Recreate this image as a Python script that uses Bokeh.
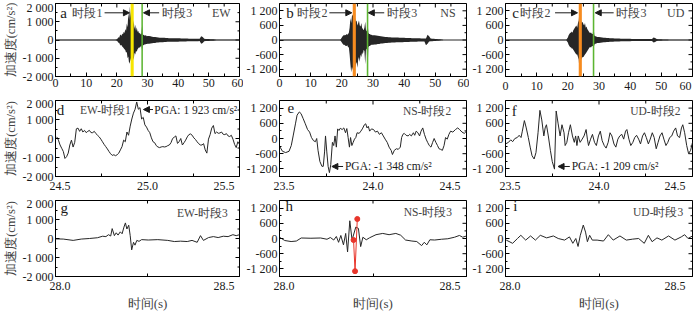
import numpy as np
from bokeh.plotting import figure
from bokeh.layouts import column, row
from bokeh.models import Range1d, FixedTicker, Label, Arrow, NormalHead, BoxAnnotation, Span
from bokeh.embed import file_html
from bokeh.resources import INLINE

SERIF = "Liberation Serif"

# ---------------- data: full records (envelope of the acceleration traces) ----------------
env_t = [0, 19.5,
         20.0, 20.25, 20.5, 20.75, 21.0, 21.25, 21.5, 21.75, 22.0, 22.25, 22.5, 22.75, 23.0, 23.25,
         23.5, 23.75, 24.0, 24.25, 24.5, 24.75, 25.0, 25.25, 25.5, 25.75, 26.0, 26.25, 26.5, 26.75,
         27.0, 27.25, 27.5, 27.75, 28.0, 28.25, 28.5, 28.75, 29.0, 29.25, 29.5, 29.75, 30.0,
         30.5, 31.0, 31.5, 32.0, 32.5, 33.0, 33.5, 34.0, 34.5, 35.0, 35.5, 36.0, 36.5, 37.0, 37.5,
         38.0, 38.5, 39.0, 39.5, 40.0, 40.5, 41.0, 41.5, 42.0, 42.5, 43.0, 43.5, 44.0, 44.5, 45.0,
         45.5, 46.0, 46.5, 47.0, 47.5, 48.0, 48.5, 49.0, 49.5, 50.0, 50.5, 51.0, 51.5, 52.0,
         52.5, 60]

ew_hi = [10, 15,
         40, 80, 150, 120, 250, 300, 220, 350, 300, 450, 380, 600, 500, 900, 700, 1500, 1100, 1850,
         1200, 1923, 1300, 800, 1080, 600, 830, 500, 700, 450, 500, 350, 400, 300, 350, 820, 300,
         280, 250, 240, 260, 200, 220,
         220, 200, 180, 170, 160, 150, 140, 130, 130, 120, 120, 110, 110, 100, 100, 100, 95, 95,
         90, 90, 90, 85, 85, 80, 80, 80, 75, 75, 70, 70, 70, 65, 65, 65, 200, 160, 70, 60, 55, 50,
         45, 40, 35, 30,
         10, 10]
ew_lo = [-10, -15,
         -40, -80, -150, -150, -250, -300, -280, -350, -400, -450, -500, -550, -700, -650, -1000,
         -900, -1300, -1200, -1050, -900, -800, -950, -1100, -700, -800, -600, -650, -500, -450,
         -400, -420, -350, -300, -600, -300, -280, -250, -250, -220, -220, -200,
         -200, -190, -180, -160, -160, -140, -140, -130, -120, -120, -110, -110, -100, -100, -100,
         -95, -95, -90, -90, -90, -85, -85, -80, -80, -80, -75, -75, -70, -70, -70, -65, -65, -65,
         -60, -200, -160, -70, -60, -55, -50, -45, -40, -35, -30,
         -10, -10]

ns_hi = [10, 15,
         100, 150, 200, 180, 220, 200, 250, 220, 250, 300, 500, 900, 700, 990, 1050, 800, 1200, 900,
         750, 800, 600, 700, 800, 600, 550, 700, 500, 450, 400, 500, 750, 400, 350, 770, 300, 250,
         250, 220, 220, 200, 200,
         200, 180, 170, 160, 150, 140, 130, 120, 120, 110, 110, 100, 100, 100, 100, 100, 90, 90,
         90, 90, 80, 80, 80, 80, 70, 70, 70, 70, 70, 70, 60, 60, 60, 60, 220, 150, 60, 50, 50, 45,
         40, 35, 30, 25,
         10, 10]
ns_lo = [-10, -15,
         -100, -150, -200, -200, -220, -250, -250, -220, -300, -300, -600, -1000, -1325, -1100,
         -1200, -1348, -1000, -1140, -1000, -900, -1140, -800, -700, -900, -600, -700, -500, -600,
         -400, -450, -1000, -400, -350, -1400, -300, -250, -250, -220, -200, -200, -200,
         -190, -180, -160, -160, -140, -140, -130, -120, -120, -110, -110, -100, -100, -100, -95,
         -95, -90, -90, -90, -80, -80, -80, -80, -70, -70, -70, -70, -70, -60, -60, -60, -60, -60,
         -220, -150, -60, -50, -50, -45, -40, -35, -30, -25,
         -10, -10]

ud_hi = [10, 15,
         100, 200, 250, 300, 300, 350, 300, 400, 450, 500, 550, 600, 500, 700, 800, 1240, 900, 800,
         700, 750, 650, 600, 700, 500, 550, 450, 400, 350, 300, 300, 300, 250, 250, 550, 200, 150,
         150, 130, 120, 120, 120,
         110, 100, 90, 90, 80, 80, 70, 70, 70, 60, 60, 60, 60, 50, 50, 50, 50, 50, 50, 50, 45, 45,
         45, 45, 45, 45, 40, 40, 40, 40, 40, 40, 40, 40, 100, 80, 40, 30, 30, 30, 25, 25, 20, 20,
         10, 10]
ud_lo = [-10, -15,
         -100, -200, -250, -300, -300, -350, -350, -400, -450, -500, -550, -600, -600, -700, -800,
         -1330, -1000, -800, -750, -700, -700, -650, -600, -550, -500, -450, -400, -350, -300,
         -300, -300, -250, -250, -350, -200, -150, -150, -130, -120, -120, -120,
         -110, -100, -90, -90, -80, -80, -70, -70, -70, -60, -60, -60, -60, -50, -50, -50, -50,
         -50, -50, -50, -45, -45, -45, -45, -45, -45, -40, -40, -40, -40, -40, -40, -40, -40,
         -100, -80, -40, -30, -30, -30, -25, -25, -20, -20,
         -10, -10]

# ---------------- data: windows ----------------
# EW window 1 (uniform sampling)
d_t0, d_dt = 24.507, 0.008865
d_v = [86, -86, -342, -513, -684, -1050, -958, -770, -342, -86, -450, -200, 510, 547, 376, 513,
       342, 427, 308, 376, 427, 308, 308, 376, 256, 171, 86, -34, -171, -308, -427, -547, -684,
       -804, -889, -855, -906, -855, -770, -600, -427, -86, -171, 342, 171, 650, 1026, 1334, 1540,
       1923, 1540, 1625, 1026, 1111, 718, 600, 427, 308, 34, -171, -222, -376, -445, -479, -445,
       -427, -445, -427, -376, -342, -222, 0, 68, 137, -256, -171, 0, -342, -222, -86, 86, 205,
       240, 171, 34, -51, -171, -273, -342, -342, -273, -600, -770, -34, 205, 547, 684, 256, 342,
       274, 291, 342, 222, 205, 256, 137, 103, 171, -34, -308, -479, -171, -308]

e_t = [23.500, 23.516, 23.533, 23.551, 23.563, 23.573, 23.586, 23.594, 23.606, 23.615, 23.626,
       23.638, 23.650, 23.661, 23.671, 23.682, 23.692, 23.699, 23.706, 23.716, 23.727, 23.734,
       23.741, 23.746, 23.753, 23.760, 23.767, 23.774, 23.783, 23.790, 23.797, 23.804, 23.811,
       23.818, 23.825, 23.835, 23.844, 23.853, 23.860, 23.867, 23.874, 23.880, 23.887, 23.894,
       23.901, 23.908, 23.915, 23.926, 23.935, 23.943, 23.954, 23.961, 23.968, 23.975, 23.982,
       23.992, 24.003, 24.013, 24.024, 24.034, 24.045, 24.055, 24.065, 24.076, 24.086, 24.097,
       24.104, 24.114, 24.125, 24.135, 24.146, 24.153, 24.160, 24.167, 24.177, 24.188, 24.196,
       24.205, 24.216, 24.223, 24.231, 24.240, 24.249, 24.257, 24.266, 24.275, 24.284, 24.292,
       24.301, 24.310, 24.319, 24.327, 24.336, 24.345, 24.353, 24.362, 24.371, 24.380, 24.388,
       24.397, 24.406, 24.415, 24.427, 24.441, 24.453, 24.463, 24.476, 24.488, 24.500]
e_v = [-303, -505, -556, -505, -278, 101, 606, 922, 1048, 985, 796, 581, 354, 253, 38, -88, -126,
       0, -467, -909, -1099, -1099, -530, 101, -530, -1099, -1348, -1036, -152, -278, 101, -341,
       379, 316, 404, 354, 417, 227, 392, 38, -341, 38, -278, -152, -25, 38, 227, 202, 290, 379,
       543, 581, 417, 480, 290, 379, 354, 253, 290, 164, 227, 101, -25, -152, -341, -467, -632,
       -467, -404, -429, -341, 38, 164, 202, 126, 101, 164, 101, 227, 126, 290, 227, 101, 290,
       417, 164, -25, -152, -278, -341, -152, 0, -152, -278, -404, -429, -467, -278, 38, -25,
       164, 290, 253, 354, 417, 354, 253, 202, 290]

f_t = [23.500, 23.516, 23.528, 23.538, 23.550, 23.563, 23.573, 23.583, 23.590, 23.601, 23.611,
       23.622, 23.632, 23.642, 23.653, 23.663, 23.674, 23.684, 23.694, 23.705, 23.712, 23.719,
       23.729, 23.740, 23.750, 23.762, 23.771, 23.781, 23.792, 23.802, 23.813, 23.819, 23.828,
       23.837, 23.847, 23.858, 23.868, 23.875, 23.882, 23.889, 23.899, 23.910, 23.920, 23.931,
       23.938, 23.944, 23.955, 23.965, 23.976, 23.986, 23.997, 24.007, 24.017, 24.028, 24.038,
       24.049, 24.059, 24.069, 24.080, 24.090, 24.101, 24.111, 24.122, 24.132, 24.142, 24.149,
       24.160, 24.170, 24.181, 24.191, 24.201, 24.212, 24.222, 24.233, 24.243, 24.253, 24.264,
       24.274, 24.285, 24.295, 24.306, 24.316, 24.326, 24.337, 24.347, 24.358, 24.368, 24.378,
       24.389, 24.399, 24.410, 24.420, 24.431, 24.441, 24.448, 24.458, 24.469, 24.479, 24.490,
       24.500]
f_v = [-215, -152, -51, -126, 0, 38, 126, 38, 290, 707, 417, 38, -341, -682, -808, -556, 227,
       1111, 733, 101, 417, 543, 101, -467, -909, -1209, 1086, 606, 101, 543, 227, -278, -152,
       227, 543, 101, -152, 101, -278, 101, -152, -25, 101, 354, -25, -278, -25, 164, -152, -278,
       101, 290, -88, -278, -379, -152, 227, 101, -215, -341, -25, 101, 164, -25, 290, 354, -25,
       -278, -152, 38, 126, -25, -215, 101, 227, 38, -215, -25, 227, 38, -404, -152, 101, 227,
       -25, -278, -152, 38, 101, 290, 417, 101, 38, 417, 543, 227, -278, -594, -467, -152]

g_t = [28.000, 28.021, 28.048, 28.070, 28.092, 28.114, 28.128, 28.137, 28.144, 28.150, 28.154,
       28.160, 28.165, 28.170, 28.176, 28.181, 28.186, 28.190, 28.194, 28.199, 28.203, 28.207,
       28.212, 28.216, 28.221, 28.227, 28.234, 28.252, 28.278, 28.305, 28.323, 28.340, 28.358,
       28.371, 28.385, 28.394, 28.402, 28.416, 28.429, 28.442, 28.456, 28.469, 28.482, 28.491,
       28.500]
g_v = [-20, -30, -100, -30, 0, 40, 120, 100, 200, 130, 520, 150, 300, 180, 350, 250, 600, 820,
       500, 700, 150, -600, -200, -350, -100, -150, -60, -80, -60, -100, -160, -140, -160, -100,
       -200, 150, -100, 50, 100, 50, 120, 100, 200, 150, 200]

h_t = [28.000, 28.014, 28.031, 28.045, 28.058, 28.084, 28.110, 28.127, 28.136, 28.145, 28.152,
       28.158, 28.164, 28.171, 28.177, 28.182, 28.188, 28.194, 28.204, 28.211, 28.217, 28.223,
       28.232, 28.241, 28.258, 28.276, 28.293, 28.311, 28.324, 28.337, 28.354, 28.367, 28.380,
       28.387, 28.394, 28.402, 28.415, 28.433, 28.450, 28.468, 28.481, 28.490, 28.500]
h_v = [50, -80, -120, -100, 20, 10, 20, -30, 40, -60, 80, -150, 120, -250, 200, -530, 700, -60,
       450, 400, -320, 50, -50, 30, 150, 200, 150, 200, 130, -60, -100, -120, -280, -150, -250,
       -50, -60, -30, -10, 50, 120, 50, 100]
h_raw_t = [28.198, 28.202, 28.208]
h_raw_v = [-60, -1290, 770]

i_t = [28.002, 28.019, 28.032, 28.041, 28.054, 28.067, 28.080, 28.093, 28.110, 28.128, 28.141,
       28.158, 28.171, 28.180, 28.188, 28.194, 28.200, 28.208, 28.214, 28.219, 28.225, 28.232,
       28.245, 28.262, 28.275, 28.288, 28.306, 28.323, 28.340, 28.356, 28.371, 28.382, 28.392,
       28.405, 28.418, 28.436, 28.453, 28.470, 28.479, 28.488, 28.500]
i_v = [-63, -190, 0, 126, -63, 100, -63, 126, 25, 100, 0, -63, 63, -190, 0, -315, 126, 530, 252,
       -126, 126, -63, -63, -100, 150, -63, 100, -63, -25, 0, -190, 126, -126, 25, -63, 100, -63,
       63, 150, 0, 100]

win1 = (24.5, 25.5)
win2 = (23.5, 24.5)
win3 = (28.0, 28.5)

ew_ticks = [-2000, -1000, 0, 1000, 2000]
ew_minor = [-1500, -500, 500, 1500]
ew_labels = {-2000: "-2 000", -1000: "-1 000", 0: "0", 1000: "1 000", 2000: "2 000"}
nz_ticks = [-1200, -600, 0, 600, 1200]
nz_minor = [-900, -300, 300, 900]
nz_labels = {-1200: "-1 200", -600: "-600", 0: "0", 600: "600", 1200: "1 200"}

# ---------------- layout ----------------
FW = [184, 187, 187]
BL = [50, 34, 33]
BR = [4, 3, 2]
FH = [73, 76, 76]
BT = [3, 4, 4]
BB = [20, 20, 30]

INK = "#1a1a1a"
TXT = "#444444"
WAVE = "#262626"
NB = "\u00a0"


def style_axis(ax, ticker, overrides, minor_len=2):
    ax.ticker = ticker
    ax.major_tick_in = 4
    ax.major_tick_out = 0
    ax.minor_tick_in = minor_len
    ax.minor_tick_out = 0
    ax.axis_line_color = "black"
    ax.major_tick_line_color = "black"
    ax.minor_tick_line_color = "black"
    ax.major_label_text_font = SERIF
    ax.major_label_text_color = INK
    ax.major_label_text_font_size = "12px"
    ax.major_label_standoff = 2
    ax.major_label_overrides = overrides
    ax.axis_label_text_font = SERIF
    ax.axis_label_text_font_style = "normal"
    ax.axis_label_text_font_size = "12.5px"
    ax.axis_label_text_color = TXT


def make_fig(r, c, xr, yr, xmaj, xmin, xlab, ymaj, ymin, ylab):
    p = figure(frame_width=FW[c], frame_height=FH[r], x_range=Range1d(*xr), y_range=Range1d(*yr),
               output_backend="svg", toolbar_location=None, tools="",
               min_border_left=BL[c], min_border_right=BR[c], min_border_top=BT[r],
               min_border_bottom=BB[r])
    p.xgrid.visible = False
    p.ygrid.visible = False
    p.outline_line_color = "black"
    p.outline_line_alpha = 1.0
    p.background_fill_color = "white"
    p.border_fill_color = "white"
    style_axis(p.xaxis[0], FixedTicker(ticks=xmaj, minor_ticks=xmin), xlab, minor_len=3)
    style_axis(p.yaxis[0], FixedTicker(ticks=ymaj, minor_ticks=ymin), ylab)
    # inward ticks on the top and right frame edges
    p.scatter(x=xmaj, y=[yr[1]] * len(xmaj), marker="dash", angle=np.pi / 2, size=8,
              line_color="black", line_width=1)
    if xmin:
        p.scatter(x=xmin, y=[yr[1]] * len(xmin), marker="dash", angle=np.pi / 2, size=6,
                  line_color="black", line_width=1)
    p.scatter(x=[xr[1]] * len(ymaj), y=ymaj, marker="dash", size=8, line_color="black",
              line_width=1)
    p.scatter(x=[xr[1]] * len(ymin), y=ymin, marker="dash", size=4, line_color="black",
              line_width=1)
    if c == 0:
        p.yaxis[0].axis_label = "加速度(cm/s²)"
        p.yaxis[0].axis_label_standoff = 2
    if r == 2:
        p.xaxis[0].axis_label = "时间(s)"
        p.xaxis[0].axis_label_standoff = 0
        p.xaxis[0].axis_label_text_font_size = "13px"
    return p


def txt(p, x, y, text, size="12px", align="left", color=TXT):
    p.add_layout(Label(x=x, y=y, text=text, text_align=align, text_baseline="middle",
                       text_font=SERIF, text_font_size=size, text_color=color))


def arrow(p, x0, x1, y):
    p.add_layout(Arrow(end=NormalHead(size=6, fill_color=INK, line_color=INK, line_width=1),
                       x_start=x0, y_start=y, x_end=x1, y_end=y, line_color=INK, line_width=1))


def edge_labels(vals, texts):
    # first label sits right of its tick, last label left of its tick
    out = {}
    n = len(vals)
    for k, (v, t) in enumerate(zip(vals, texts)):
        if k == 0:
            out[v] = NB * 3 + t
        elif k == n - 1:
            out[v] = t + NB * 3
        else:
            out[v] = t
    return out


YELLOW = "#f7e600"
ORANGE = "#f68b1f"
GREEN = "#5cb531"

# ---------------- row 1 ----------------
full_x = [0, 10, 20, 30, 40, 50, 60]
full_minor = [5, 15, 25, 35, 45, 55]
top_specs = [
    ("a", "EW", ew_hi, ew_lo, 2000, ew_ticks, ew_minor, ew_labels, "时段1", YELLOW, win1),
    ("b", "NS", ns_hi, ns_lo, 1500, nz_ticks, nz_minor, nz_labels, "时段2", ORANGE, win2),
    ("c", "UD", ud_hi, ud_lo, 1500, nz_ticks, nz_minor, nz_labels, "时段2", ORANGE, win2),
]
text_pos = {
    "a": (2.6, 15.3, 16.0, 24.1, 33.8, 28.7, 34.8, 57.1),
    "b": (3.4, 15.4, 16.0, 23.2, 33.6, 28.5, 34.6, 56.5),
    "c": (3.2, 14.4, 15.9, 23.1, 34.7, 28.8, 35.6, 57.4),
}
row1 = []
for c, (let, comp, hi, lo, ymax, yt, ym, yl, seg, col, win) in enumerate(top_specs):
    xl = {v: str(v) for v in full_x}
    if c == 2:
        xl[60] = "60" + NB
    p = make_fig(0, c, (0, 60), (-ymax, ymax), full_x, full_minor, xl, yt, ym, yl)
    p.add_layout(Span(location=0, dimension="width", line_color=WAVE, line_width=1))
    p.varea(x=env_t, y1=lo, y2=hi, fill_color=WAVE)
    p.add_layout(BoxAnnotation(left=win[0], right=win[1], fill_color=col, fill_alpha=1.0,
                               line_alpha=0))
    p.add_layout(BoxAnnotation(left=win3[0], right=win3[1], fill_color=GREEN, fill_alpha=1.0,
                               line_alpha=0))
    lx, sr, a0, a1, b0, b1, s3, cr = text_pos[let]
    yy = ymax * 0.745
    txt(p, lx, yy, let, size="15px", align="center", color=INK)
    txt(p, sr, yy, seg, size="12px", align="right")
    arrow(p, a0, a1, yy)
    arrow(p, b0, b1, yy)
    txt(p, s3, yy, "时段3", size="12px", align="left")
    txt(p, cr, yy, comp, size="12px", align="right")
    row1.append(p)

# ---------------- row 2 ----------------
w1_lab = edge_labels([24.5, 25.0, 25.5], ["24.5", "25.0", "25.5"])
w2_lab = edge_labels([23.5, 24.0, 24.5], ["23.5", "24.0", "24.5"])
row2 = []
pd = make_fig(1, 0, win1, (-2000, 2000), [24.5, 25.0, 25.5], [24.75, 25.25], w1_lab,
              ew_ticks, ew_minor, ew_labels)
d_t = [d_t0 + k * d_dt for k in range(len(d_v))]
pd.line(d_t, d_v, line_color=WAVE, line_width=1)
txt(pd, 24.527, 1525, "d", size="15px", align="center", color=INK)
txt(pd, 24.633, 1525, "EW-时段1", size="11.5px")
arrow(pd, 25.03, 24.978, 1525)
txt(pd, 25.037, 1525, "PGA: 1 923 cm/s²", size="11.5px", color=INK)
row2.append(pd)

pe = make_fig(1, 1, win2, (-1500, 1500), [23.5, 24.0, 24.5], [23.75, 24.25], w2_lab,
              nz_ticks, nz_minor, nz_labels)
pe.line(e_t, e_v, line_color=WAVE, line_width=1)
txt(pe, 23.56, 1220, "e", size="15px", align="center", color=INK)
txt(pe, 24.16, 1070, "NS-时段2", size="11.5px")
arrow(pe, 23.84, 23.78, -1105)
txt(pe, 23.85, -1105, "PGA: -1 348 cm/s²", size="11.5px", color=INK)
row2.append(pe)

pf = make_fig(1, 2, win2, (-1500, 1500), [23.5, 24.0, 24.5], [23.75, 24.25], w2_lab,
              nz_ticks, nz_minor, nz_labels)
pf.line(f_t, f_v, line_color=WAVE, line_width=1)
txt(pf, 23.547, 1105, "f", size="15px", align="center", color=INK)
txt(pf, 24.167, 1070, "UD-时段2", size="11.5px")
arrow(pf, 23.844, 23.781, -1105)
txt(pf, 23.854, -1105, "PGA: -1 209 cm/s²", size="11.5px", color=INK)
row2.append(pf)

# ---------------- row 3 ----------------
w3_lab = edge_labels([28.0, 28.5], ["28.0", "28.5"])
row3 = []
pg = make_fig(2, 0, win3, (-2000, 2000), [28.0, 28.5], [28.25], w3_lab,
              ew_ticks, ew_minor, ew_labels)
pg.line(g_t, g_v, line_color=WAVE, line_width=1)
txt(pg, 28.024, 1600, "g", size="15px", align="center", color=INK)
txt(pg, 28.33, 1350, "EW-时段3", size="11.5px")
row3.append(pg)

ph = make_fig(2, 1, win3, (-1500, 1500), [28.0, 28.5], [28.25], w3_lab,
              nz_ticks, nz_minor, nz_labels)
ph.line(h_t, h_v, line_color=WAVE, line_width=1)
ph.line(h_raw_t, h_raw_v, line_color="#e8352b", line_width=1)
ph.scatter(h_raw_t, h_raw_v, size=5, fill_color="#e8352b", line_color="#e8352b")
txt(ph, 28.026, 1275, "h", size="15px", align="center", color=INK)
txt(ph, 28.332, 1050, "NS-时段3", size="11.5px")
row3.append(ph)

pi_ = make_fig(2, 2, win3, (-1500, 1500), [28.0, 28.5], [28.25], w3_lab,
               nz_ticks, nz_minor, nz_labels)
pi_.line(i_t, i_v, line_color=WAVE, line_width=1)
txt(pi_, 28.026, 1275, "i", size="15px", align="center", color=INK)
txt(pi_, 28.341, 1050, "UD-时段3", size="11.5px")
row3.append(pi_)

layout = column(row(*row1, spacing=0), row(*row2, spacing=0), row(*row3, spacing=0), spacing=0)

open("out.html", "w").write(file_html(layout, INLINE))
